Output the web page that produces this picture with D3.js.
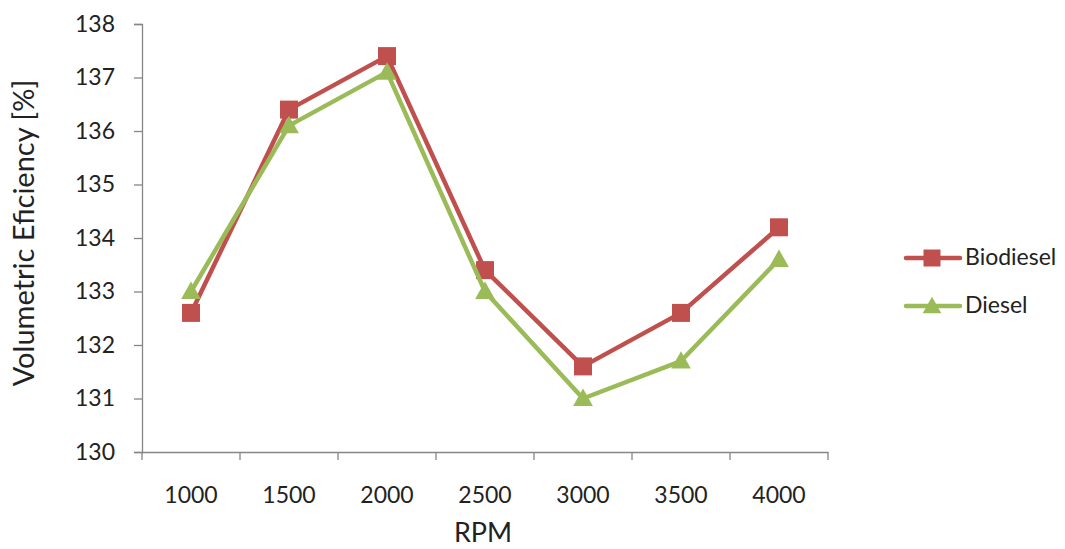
<!DOCTYPE html>
<html>
<head>
<meta charset="utf-8">
<script src="https://cdn.jsdelivr.net/npm/d3@7"></script>
<style>
  html, body { margin: 0; padding: 0; background: #fff; }
  svg { display: block; }
  text { font-family: Lato, "Open Sans", sans-serif; fill: #222; }
</style>
</head>
<body>
<svg id="chart" width="1065" height="549"></svg>
<script>
// Engine speed categories and measured volumetric efficiency
const rpm = ["1000", "1500", "2000", "2500", "3000", "3500", "4000"];
const biodiesel = [132.6, 136.4, 137.4, 133.4, 131.6, 132.6, 134.2];
const diesel = [133.0, 136.1, 137.1, 133.0, 131.0, 131.7, 133.6];
const yTicks = [130, 131, 132, 133, 134, 135, 136, 137, 138];

const series = [
  { name: "Biodiesel", values: biodiesel, color: "#C0504D", marker: "square" },
  { name: "Diesel", values: diesel, color: "#9BBB59", marker: "triangle" }
];

const svg = d3.select("#chart");
const plot = { left: 142, right: 828, top: 24, bottom: 452 };
const axisColor = "#868686";
const tickFont = 23;

const x = d3.scaleBand().domain(rpm).range([plot.left, plot.right]);
const y = d3.scaleLinear().domain([130, 138]).range([plot.bottom, plot.top]);

// Y axis
const yAxis = svg.append("g")
  .attr("transform", `translate(${plot.left},0)`)
  .call(d3.axisLeft(y).tickValues(yTicks).tickSize(8).tickPadding(19).tickFormat(d3.format("d")));
yAxis.select(".domain").attr("stroke", axisColor).attr("stroke-width", 1.3);
yAxis.selectAll(".tick line").attr("stroke", axisColor).attr("stroke-width", 1.3);
yAxis.selectAll(".tick text").attr("font-size", tickFont).attr("fill", "#222")
  .style("font-family", "Lato, 'Open Sans', sans-serif");

// X axis: ticks sit on band boundaries, labels at band centres
const xAxis = svg.append("g")
  .attr("transform", `translate(0,${plot.bottom})`)
  .call(d3.axisBottom(x).tickSize(0).tickPadding(35));
xAxis.select(".domain").attr("stroke", axisColor).attr("stroke-width", 1.3);
xAxis.selectAll(".tick text").attr("font-size", tickFont).attr("fill", "#222")
  .style("font-family", "Lato, 'Open Sans', sans-serif");
const boundaries = rpm.map(d => x(d)).concat([x(rpm[rpm.length - 1]) + x.bandwidth()]);
svg.append("g").selectAll("line").data(boundaries).join("line")
  .attr("x1", d => d).attr("x2", d => d)
  .attr("y1", plot.bottom).attr("y2", plot.bottom + 8)
  .attr("stroke", axisColor).attr("stroke-width", 1.3);

// Axis titles
svg.append("text")
  .attr("transform", "translate(34,233) rotate(-90)")
  .attr("text-anchor", "middle")
  .attr("font-size", 29)
  .text("Volumetric Eficiency [%]");

svg.append("text")
  .attr("x", 483)
  .attr("y", 542)
  .attr("text-anchor", "middle")
  .attr("font-size", 27)
  .text("RPM");

// Series lines and markers
const cx = d => x(d) + x.bandwidth() / 2;
const line = d3.line().x(d => cx(d.rpm)).y(d => y(d.v));
const sqSize = 18;
const triPath = s => `M0,${-s * 0.55}L${s * 0.55},${s * 0.42}L${-s * 0.55},${s * 0.42}Z`;

function drawMarker(g, type, color, size) {
  if (type === "square") {
    g.append("rect").attr("x", -size / 2).attr("y", -size / 2)
      .attr("width", size).attr("height", size).attr("fill", color);
  } else {
    g.append("path").attr("d", triPath(size)).attr("fill", color);
  }
}

series.forEach(s => {
  const pts = rpm.map((r, i) => ({ rpm: r, v: s.values[i] }));
  svg.append("path").datum(pts)
    .attr("d", line)
    .attr("fill", "none")
    .attr("stroke", s.color)
    .attr("stroke-width", 4.5)
    .attr("stroke-linejoin", "round");
  pts.forEach(p => {
    const g = svg.append("g").attr("transform", `translate(${cx(p.rpm)},${y(p.v)})`);
    drawMarker(g, s.marker, s.color, sqSize);
  });
});

// Legend
const legend = svg.append("g");
series.forEach((s, i) => {
  const ly = 258 + i * 48;
  legend.append("line")
    .attr("x1", 906).attr("x2", 960).attr("y1", ly).attr("y2", ly)
    .attr("stroke", s.color).attr("stroke-width", 4.5).attr("stroke-linecap", "round");
  const g = legend.append("g").attr("transform", `translate(932,${ly})`);
  drawMarker(g, s.marker, s.color, 17);
  legend.append("text")
    .attr("x", 965).attr("y", ly + 7)
    .attr("font-size", 23)
    .text(s.name);
});
</script>
</body>
</html>
